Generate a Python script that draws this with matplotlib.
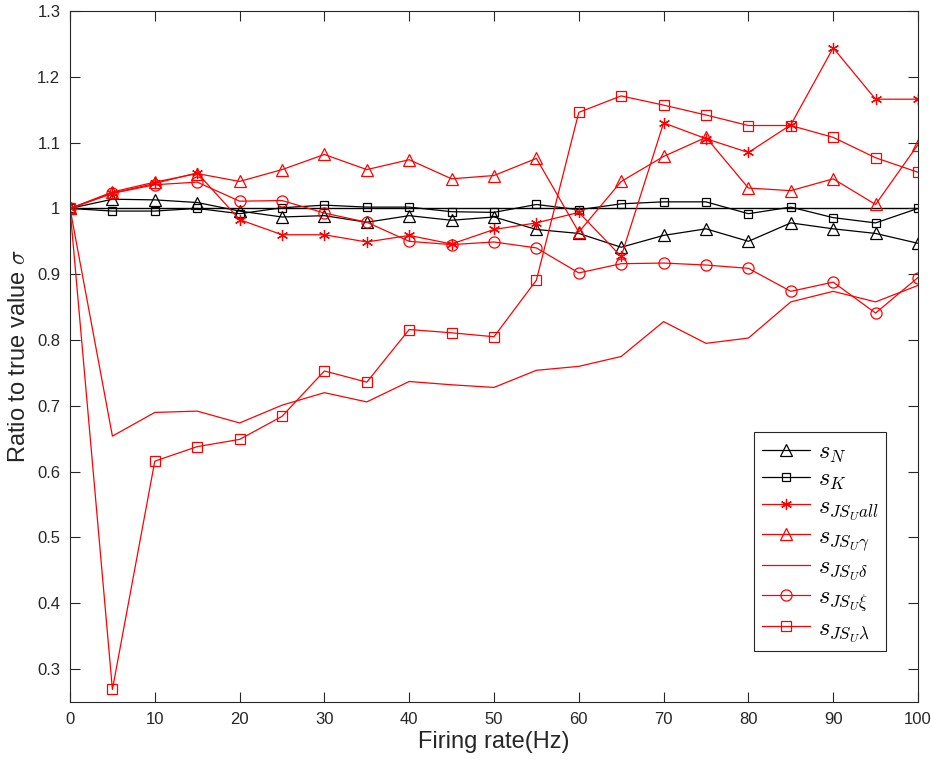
import numpy as np
import matplotlib
matplotlib.use("Agg")
import matplotlib.pyplot as plt

# ── Data ─────────────────────────────────────────────────────
rate = [0, 5, 10, 15, 20, 25, 30, 35, 40, 45, 50,
        55, 60, 65, 70, 75, 80, 85, 90, 95, 100]

s_N = [1.000, 1.014, 1.013, 1.009, 0.996, 0.987, 0.989, 0.979, 0.989, 0.982, 0.987,
       0.968, 0.962, 0.941, 0.959, 0.969, 0.950, 0.978, 0.969, 0.962, 0.947]
s_K = [1.000, 0.996, 0.996, 1.000, 0.992, 1.001, 1.005, 1.002, 1.002, 0.995, 0.994,
       1.006, 0.998, 1.007, 1.010, 1.010, 0.992, 1.002, 0.986, 0.978, 1.000]
s_all = [1.000, 1.023, 1.038, 1.054, 0.983, 0.960, 0.960, 0.949, 0.959, 0.946, 0.968,
         0.978, 0.994, 0.927, 1.130, 1.106, 1.085, 1.127, 1.244, 1.166, 1.166]
s_gamma = [1.000, 1.025, 1.040, 1.053, 1.041, 1.059, 1.082, 1.059, 1.074, 1.045, 1.050,
           1.076, 0.964, 1.041, 1.079, 1.108, 1.031, 1.027, 1.045, 1.006, 1.097]
s_delta = [1.000, 0.654, 0.690, 0.692, 0.674, 0.701, 0.720, 0.706, 0.737, 0.732, 0.728,
           0.754, 0.760, 0.775, 0.828, 0.795, 0.803, 0.858, 0.874, 0.858, 0.883]
s_xi = [1.000, 1.023, 1.036, 1.040, 1.011, 1.012, 0.993, 0.979, 0.950, 0.945, 0.949,
        0.940, 0.902, 0.916, 0.917, 0.914, 0.909, 0.874, 0.888, 0.841, 0.895]
s_lambda = [1.000, 0.269, 0.616, 0.638, 0.649, 0.684, 0.753, 0.736, 0.816, 0.811, 0.805,
            0.891, 1.146, 1.171, 1.157, 1.142, 1.126, 1.126, 1.108, 1.077, 1.055]

labels = [r"$s_N$", r"$s_K$", r"$s_{JS_U all}$", r"$s_{JS_U\gamma}$",
          r"$s_{JS_U\delta}$", r"$s_{JS_U\xi}$", r"$s_{JS_U\lambda}$"]

plt.rcParams["mathtext.fontset"] = "cm"
txt_font = ["Liberation Sans", "DejaVu Sans"]

fig = plt.figure(figsize=(9.31, 7.65), dpi=100)
ax = fig.add_axes([0.0752, 0.0824, 0.9108, 0.9032])

# reference line at the true value
ax.plot([rate[0], rate[-1]], [1, 1], color="black", lw=1.0, zorder=1)

lw = 0.9
asterisk = (6, 2, 0)
ax.plot(rate, s_N, color="black", lw=lw, marker="^", ms=9, mfc="none", mew=0.9, label=labels[0])
ax.plot(rate, s_K, color="black", lw=lw, marker="s", ms=6, mfc="none", mew=0.9, label=labels[1])
ax.plot(rate, s_all, color="red", lw=lw, marker=asterisk, ms=8, mew=0.9, label=labels[2])
ax.plot(rate, s_gamma, color="red", lw=lw, marker="^", ms=9, mfc="none", mew=0.9, label=labels[3])
ax.plot(rate, s_delta, color="red", lw=lw, label=labels[4])
ax.plot(rate, s_xi, color="red", lw=lw, marker="o", ms=8, mfc="none", mew=0.9, label=labels[5])
ax.plot(rate, s_lambda, color="red", lw=lw, marker="s", ms=6.5, mfc="none", mew=0.9, label=labels[6])

ax.set_xlim(0, 100)
ax.set_ylim(0.25, 1.3)
ax.set_xticks(np.arange(0, 101, 10))
yt = np.round(np.arange(0.3, 1.31, 0.1), 1)
ax.set_yticks(yt)
ax.set_yticklabels(["1" if v == 1.0 else "{:g}".format(v) for v in yt])

ax.tick_params(direction="in", length=7, width=0.8, top=True, right=True,
               colors="#262626", labelsize=12, pad=7)
for lab in ax.get_xticklabels() + ax.get_yticklabels():
    lab.set_family(txt_font)
for sp in ax.spines.values():
    sp.set_color("#262626")
    sp.set_linewidth(0.8)

ax.set_xlabel("Firing rate(Hz)", fontsize=17, family=txt_font, color="#262626", labelpad=3)
ax.set_ylabel(r"Ratio to true value $\sigma$", fontsize=17, family=txt_font, color="#262626", labelpad=5)

leg = ax.legend(loc="lower right", bbox_to_anchor=(0.962, 0.074), borderaxespad=0,
                fancybox=False, framealpha=1, edgecolor="#262626", fontsize=17.5,
                handlelength=2.0, labelspacing=0.08, borderpad=0.3, handletextpad=0.3)
leg.get_frame().set_linewidth(0.8)

fig.savefig("out.png", dpi=100)
